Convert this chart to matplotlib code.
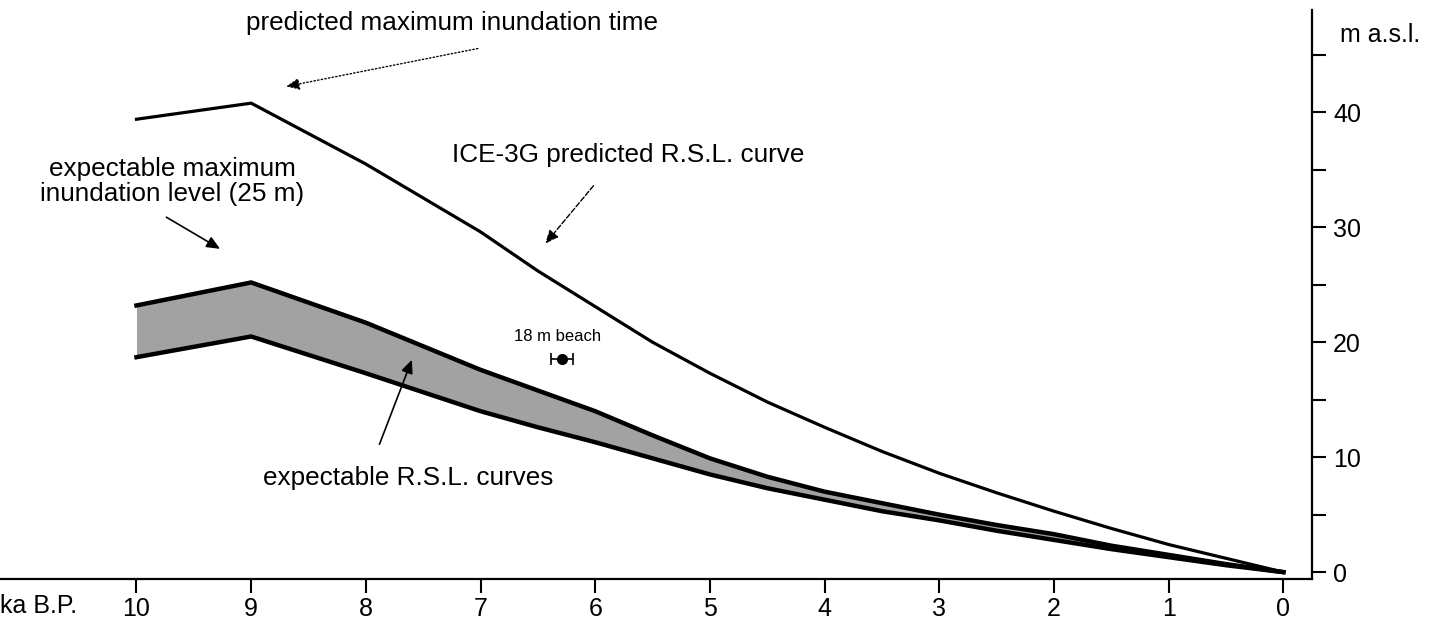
import matplotlib
matplotlib.use('Agg')
import matplotlib.pyplot as plt

plt.rcParams['font.family'] = ['Liberation Sans', 'DejaVu Sans']

# ka B.P. (x) and relative sea level, m a.s.l. (y)
ka = [10, 9, 8, 7, 6.5, 6, 5.5, 5, 4.5, 4, 3.5, 3, 2.5, 2, 1.5, 1, 0.5, 0]
ice3g = [39.4, 40.8, 35.5, 29.6, 26.2, 23.1, 20.0, 17.3, 14.8, 12.6, 10.5, 8.6,
         6.9, 5.3, 3.8, 2.4, 1.2, 0.0]
band_upper = [23.2, 25.2, 21.7, 17.6, 15.8, 14.0, 11.9, 9.9, 8.3, 7.0, 6.0, 5.0,
              4.1, 3.3, 2.3, 1.5, 0.7, 0.0]
band_lower = [18.7, 20.5, 17.3, 14.0, 12.6, 11.3, 9.9, 8.5, 7.3, 6.3, 5.3, 4.5,
              3.6, 2.8, 2.0, 1.3, 0.6, 0.0]

beach_ka = 6.29
beach_level = 18.5
beach_err = 0.095

x_ticks = [10, 9, 8, 7, 6, 5, 4, 3, 2, 1, 0]
y_major = [0, 10, 20, 30, 40]
y_minor = [5, 15, 25, 35, 45]

fig = plt.figure(figsize=(14.33, 6.28), dpi=100)
ax = fig.add_axes([0.0, 0.078, 0.9156, 0.906])

ax.fill_between(ka, band_lower, band_upper, color='#a2a2a2', lw=0)
ax.plot(ka, band_upper, color='black', lw=3.2, solid_joinstyle='miter')
ax.plot(ka, band_lower, color='black', lw=3.2, solid_joinstyle='miter')
ax.plot(ka, ice3g, color='black', lw=2.3)

ax.errorbar([beach_ka], [beach_level], xerr=[beach_err], fmt='o', color='black',
            ms=7, capsize=4, elinewidth=1.2, capthick=1.2)
ax.text(6.33, 20.5, '18 m beach', fontsize=12, ha='center', va='center')

# annotations
head = '-|>,head_length=0.8,head_width=0.35'
ax.annotate('', xy=(8.72, 42.2), xytext=(7.0, 45.6),
            arrowprops=dict(arrowstyle=head, color='black', lw=1.0, ls=':'))
ax.text(7.25, 47.8, 'predicted maximum inundation time', fontsize=18.8,
        ha='center', va='center')

ax.annotate('', xy=(6.45, 28.4), xytext=(6.0, 33.8),
            arrowprops=dict(arrowstyle=head, color='black', lw=1.0, ls='--'))
ax.text(5.71, 36.3, 'ICE-3G predicted R.S.L. curve', fontsize=18.8,
        ha='center', va='center')

ax.annotate('', xy=(9.25, 28.0), xytext=(9.76, 31.0),
            arrowprops=dict(arrowstyle=head, color='black', lw=1.2))
ax.text(9.69, 34.0, 'expectable maximum\ninundation level (25 m)', fontsize=18.8,
        ha='center', va='center', linespacing=1.05)

ax.annotate('', xy=(7.59, 18.7), xytext=(7.89, 10.9),
            arrowprops=dict(arrowstyle=head, color='black', lw=1.2))
ax.text(7.63, 8.2, 'expectable R.S.L. curves', fontsize=18.8,
        ha='center', va='center')

ax.set_xlim(11.19, -0.25)
ax.set_ylim(-0.6, 48.9)

ax.spines['left'].set_visible(False)
ax.spines['top'].set_visible(False)
ax.spines['right'].set_linewidth(1.6)
ax.spines['bottom'].set_linewidth(1.6)

ax.set_xticks(x_ticks)
ax.set_xticklabels([str(t) for t in x_ticks])
ax.yaxis.tick_right()
ax.set_yticks(y_major)
ax.set_yticks(y_minor, minor=True)
ax.set_yticklabels([str(t) for t in y_major])
ax.tick_params(axis='x', direction='out', length=10, width=1.5, labelsize=18, pad=3)
ax.tick_params(axis='y', which='both', direction='out', length=10, width=1.5,
               labelsize=18, pad=5)

fig.text(1380 / 1433, 1 - 35 / 628, 'm a.s.l.', fontsize=18, ha='center', va='center')
fig.text(0.0, 1 - 606 / 628, 'ka B.P.', fontsize=18, ha='left', va='center')

fig.savefig('out.png', dpi=100, facecolor='white')
